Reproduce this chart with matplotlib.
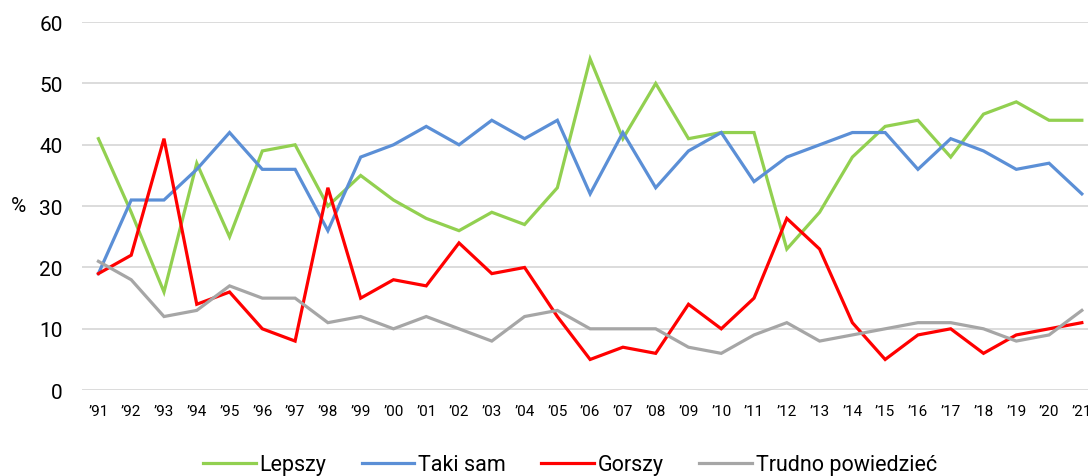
import matplotlib.pyplot as plt

plt.rcParams['font.family'] = ['Roboto', 'DejaVu Sans']

years = ["\u201991", "\u201992", "\u201993", "\u201994", "\u201995", "\u201996", "\u201997",
         "\u201998", "\u201999", "\u201900", "\u201901", "\u201902", "\u201903", "\u201904",
         "\u201905", "\u201906", "\u201907", "\u201908", "\u201909", "\u201910", "\u201911",
         "\u201912", "\u201913", "\u201914", "\u201915", "\u201916", "\u201917", "\u201918",
         "\u201919", "\u201920", "\u201921"]

lepszy = [41, 29, 16, 37, 25, 39, 40, 30, 35, 31, 28, 26, 29, 27, 33, 54,
          41, 50, 41, 42, 42, 23, 29, 38, 43, 44, 38, 45, 47, 44, 44]
taki_sam = [19, 31, 31, 36, 42, 36, 36, 26, 38, 40, 43, 40, 44, 41, 44, 32,
            42, 33, 39, 42, 34, 38, 40, 42, 42, 36, 41, 39, 36, 37, 32]
gorszy = [19, 22, 41, 14, 16, 10, 8, 33, 15, 18, 17, 24, 19, 20, 12, 5,
          7, 6, 14, 10, 15, 28, 23, 11, 5, 9, 10, 6, 9, 10, 11]
trudno = [21, 18, 12, 13, 17, 15, 15, 11, 12, 10, 12, 10, 8, 12, 13, 10,
          10, 10, 7, 6, 9, 11, 8, 9, 10, 11, 11, 10, 8, 9, 13]

series = [
    ("Lepszy", lepszy, "#92D050"),
    ("Taki sam", taki_sam, "#5B8FD6"),
    ("Gorszy", gorszy, "#FF0000"),
    ("Trudno powiedzieć", trudno, "#A6A6A6"),
]

fig = plt.figure(figsize=(10.88, 4.77), dpi=100)
ax = fig.add_axes([0.0754, 0.180, 0.934, 0.7715])

x = list(range(len(years)))
for name, vals, col in series:
    ax.plot(x, vals, color=col, lw=2.3, label=name, solid_joinstyle='miter')

ax.set_xlim(-0.5, len(years) - 0.5)
ax.set_ylim(0, 60)
ax.set_yticks(range(0, 61, 10))
ax.set_xticks(x)
ax.set_xticklabels(years, fontsize=11, color="#000000")
ax.tick_params(axis='y', length=0, pad=14, labelsize=15)
ax.tick_params(axis='x', length=0, pad=10)
ax.grid(axis='y', color="#D9D9D9", lw=1.3)
ax.set_axisbelow(True)
for s in ax.spines.values():
    s.set_visible(False)

fig.text(18 / 1088, 1 - 207 / 477, "%", fontsize=15, ha='center', va='center')

fig.legend(loc='center', bbox_to_anchor=(570 / 1088, 1 - 466 / 477), ncol=4,
           frameon=False, fontsize=15.5, handlelength=2.45, handletextpad=0.19,
           columnspacing=1.63)

fig.savefig("out.png", dpi=100)
